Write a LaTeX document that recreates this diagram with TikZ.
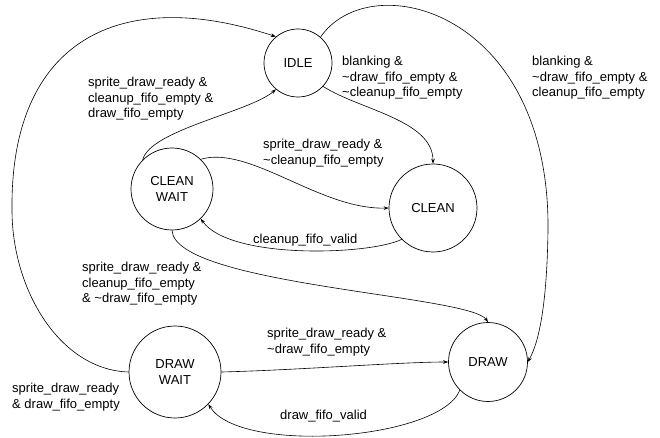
\documentclass[tikz,border=0pt]{standalone}
\usepackage{fontspec}
\setmainfont{Liberation Sans}
\usetikzlibrary{arrows.meta}

\tikzset{
  fsmstate/.style={circle, draw, line width=0.7pt, align=center, inner sep=0pt,
    font=\fontsize{13}{15.5}\selectfont},
  cond/.style={anchor=north west, align=left, inner sep=0pt,
    font=\fontsize{13}{15.5}\selectfont},
  trans/.style={line width=0.6pt, -{Stealth[length=5pt,width=3.6pt]}}
}

\begin{document}
\begin{tikzpicture}[x=1pt,y=-1pt]%,node distance=3cm]
  \useasboundingbox (0,0) rectangle (660,438);

  \node[fsmstate, minimum size=68pt] (idle) at (298,63) {IDLE};
  \node[fsmstate, minimum size=82pt] (cwait) at (172,189) {CLEAN\\WAIT};
  \node[fsmstate, minimum size=88pt] (clean) at (433,208) {CLEAN};
  \node[fsmstate, minimum size=79pt] (drawing) at (488,362) {DRAW};
  \node[fsmstate, minimum size=92pt] (dwait) at (175,372) {DRAW\\WAIT};

  \node[cond] (cwaitidle) at (88,77) {sprite\_draw\_ready \&\\cleanup\_fifo\_empty \&\\draw\_fifo\_empty};
  \node[cond] (idleclean) at (342,56) {blanking \&\\\textasciitilde draw\_fifo\_empty \&\\\textasciitilde cleanup\_fifo\_empty};
  \node[cond] (idledraw) at (532,56) {blanking \&\\\textasciitilde draw\_fifo\_empty \&\\cleanup\_fifo\_empty};
  \node[cond] (cwaitclean) at (263,139) {sprite\_draw\_ready \&\\\textasciitilde cleanup\_fifo\_empty};
  \node[cond] (cleancwait) at (253,234) {cleanup\_fifo\_valid};
  \node[cond] (cwaitdraw) at (82,262) {sprite\_draw\_ready \&\\cleanup\_fifo\_empty\\\& \textasciitilde draw\_fifo\_empty};
  \node[cond] (dwaitdraw) at (267,328) {sprite\_draw\_ready \&\\\textasciitilde draw\_fifo\_empty};
  \node[cond] (dwaitidle) at (12,383) {sprite\_draw\_ready\\\& draw\_fifo\_empty};
  \node[cond] (drawdwait) at (280,410) {draw\_fifo\_valid};

  \draw[trans] (dwait.west) .. controls (60,370) and (12,290) .. (12,210)
    .. controls (10,40) and (120,-15) .. (idle.130);
  \draw[trans] (cwait.135) .. controls (150,130) and (250,112) .. (idle.230);
  \draw[trans] (idle.317) .. controls (360,110) and (433,120) .. (clean.north);
  \draw[trans] (idle.49) .. controls (370,-35) and (550,10) .. (548,230)
    .. controls (547,300) and (540,340) .. (drawing.east);
  \draw[trans] (cwait.46) .. controls (250,145) and (320,210) .. (clean.west);
  \draw[trans] (clean.225) .. controls (370,255) and (230,260) .. (cwait.314);
  \draw[trans] (cwait.south) .. controls (175,285) and (470,295) .. (drawing.north);
  \draw[trans] (dwait.east) .. controls (300,370) and (400,362) .. (drawing.west);
  \draw[trans] (drawing.225) .. controls (440,440) and (240,455) .. (dwait.316);

\end{tikzpicture}
\end{document}
